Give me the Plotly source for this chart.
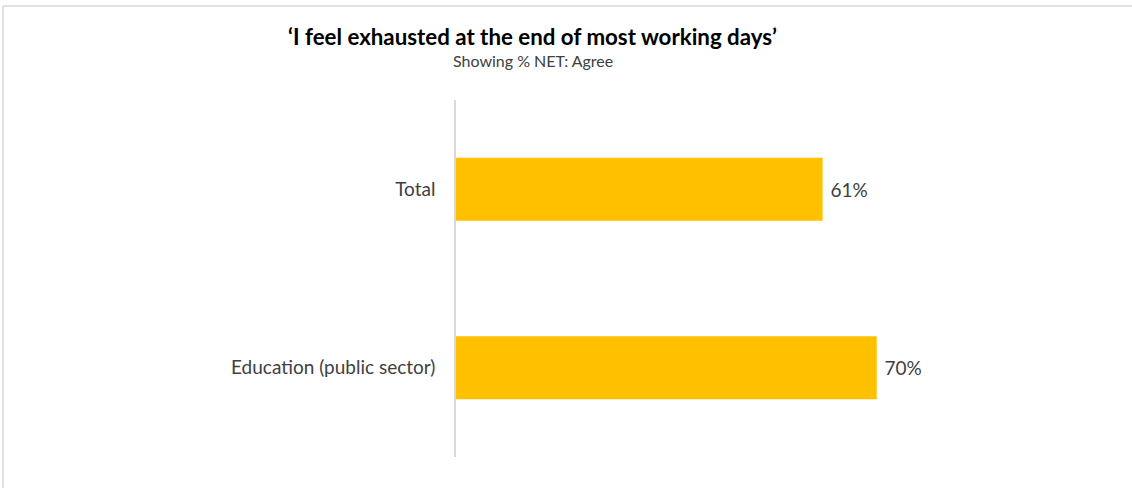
import plotly.graph_objects as go

categories = ["Total", "Education (public sector)"]
values = [61, 70]
title_text = "\u2018I feel exhausted at the end of most working days\u2019"
subtitle_text = "Showing % NET: Agree"

W, H = 1132, 488
L, R, T, B = 456, 16, 100, 31
pw = W - L - R
ph = H - T - B

def px_x(x):
    return (x - L) / pw

def px_y(y):
    return (H - B - y) / ph

FONT = "Lato, Open Sans, sans-serif"

fig = go.Figure(
    go.Bar(
        y=categories,
        x=values,
        orientation="h",
        marker=dict(color="#FFC000", line=dict(width=0)),
        width=0.353,
        text=[f"{v}%" for v in values],
        texttemplate=" %{text}",
        textposition="outside",
        cliponaxis=False,
        textfont=dict(family=FONT, size=19, color="#404040"),
    )
)

fig.update_layout(
    width=W,
    height=H,
    margin=dict(l=L, r=R, t=T, b=B, pad=0),
    paper_bgcolor="white",
    plot_bgcolor="white",
    showlegend=False,
    xaxis=dict(range=[0, pw / 6.01], visible=False, showgrid=False, zeroline=False),
    yaxis=dict(
        categoryorder="array",
        categoryarray=categories[::-1],
        range=[-0.5, 1.5],
        showline=True,
        linecolor="#D9D9D9",
        linewidth=1.5,
        showgrid=False,
        zeroline=False,
        ticks="",
        ticklabelstandoff=15,
        tickfont=dict(family=FONT, size=19, color="#404040"),
    ),
    annotations=[
        dict(
            text="<b>" + title_text + "</b>",
            xref="paper", yref="paper",
            x=px_x(532), y=px_y(37),
            xanchor="center", yanchor="middle",
            showarrow=False,
            font=dict(family=FONT, size=22.3, color="#000000"),
        ),
        dict(
            text=subtitle_text,
            xref="paper", yref="paper",
            x=px_x(533), y=px_y(61),
            xanchor="center", yanchor="middle",
            showarrow=False,
            font=dict(family=FONT, size=16, color="#404040"),
        ),
    ],
    shapes=[
        dict(type="line", xref="paper", yref="paper",
             x0=px_x(3), x1=px_x(W + 5), y0=px_y(6), y1=px_y(6),
             line=dict(color="#D9D9D9", width=1.5)),
        dict(type="line", xref="paper", yref="paper",
             x0=px_x(3), x1=px_x(3), y0=px_y(6), y1=px_y(H + 5),
             line=dict(color="#D9D9D9", width=1.5)),
    ],
)

fig.write_html("out.html")
